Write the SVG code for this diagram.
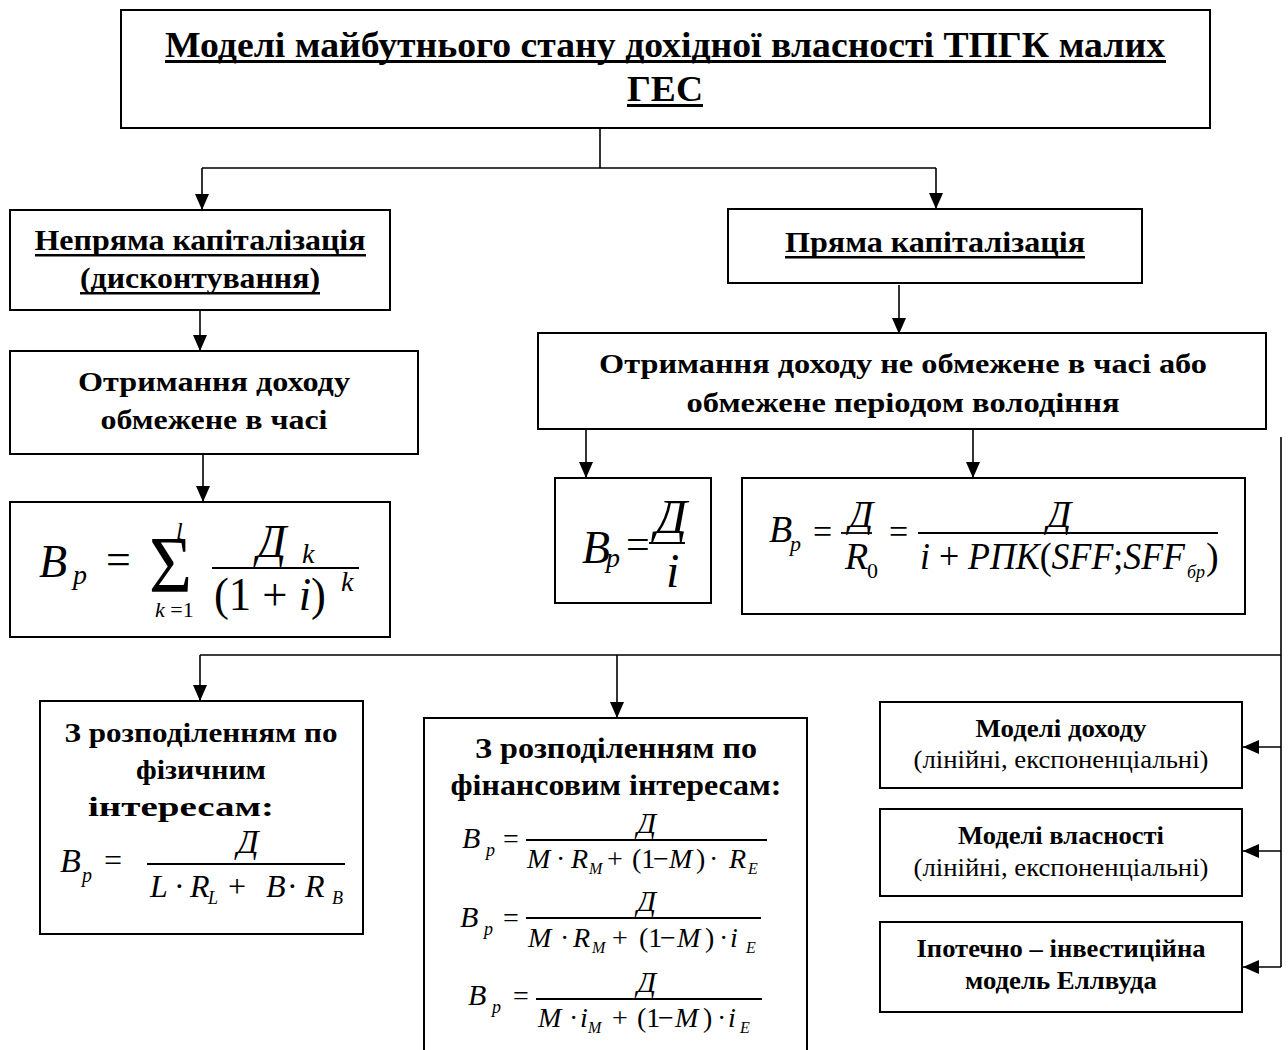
<svg xmlns="http://www.w3.org/2000/svg" width="1288" height="1050" viewBox="0 0 1288 1050">
  <defs>
    <style>
      .box { fill: #fff; stroke: #000; stroke-width: 2; }
      .conn { fill: none; stroke: #000; stroke-width: 1.6; }
      .t { font-family: "Liberation Serif", "Times New Roman", serif; fill: #000; }
      .b { font-weight: bold; }
      .c { text-anchor: middle; }
      .m { font-style: italic; }
      .eq { font-family: "Liberation Serif", "Times New Roman", serif; fill: #000; font-style: italic; }
      .r { font-style: normal; }
      .bar { stroke: #000; stroke-width: 1.8; }
      .ul { fill: #000; }
    </style>
    <marker id="arrow" markerUnits="userSpaceOnUse" markerWidth="16" markerHeight="14" viewBox="0 0 16 14" refX="16" refY="7" orient="auto">
      <path d="M0,0 L16,7 L0,14 Z" fill="#000"/>
    </marker>
  </defs>

  <rect width="1288" height="1050" fill="#fff"/>

  <!-- connectors -->
  <g id="connectors">
    <path class="conn" d="M600,128 V168 M202,168 H936"/>
    <path class="conn" d="M202,168 V210" marker-end="url(#arrow)"/>
    <path class="conn" d="M936,168 V209" marker-end="url(#arrow)"/>
    <path class="conn" d="M200,311 V351" marker-end="url(#arrow)"/>
    <path class="conn" d="M203,455 V502" marker-end="url(#arrow)"/>
    <path class="conn" d="M899,285 V334" marker-end="url(#arrow)"/>
    <path class="conn" d="M586,430 V478" marker-end="url(#arrow)"/>
    <path class="conn" d="M973,430 V478" marker-end="url(#arrow)"/>
    <path class="conn" d="M1281,437 V967 M200,655 H1281"/>
    <path class="conn" d="M200,655 V701" marker-end="url(#arrow)"/>
    <path class="conn" d="M617,655 V718" marker-end="url(#arrow)"/>
    <path class="conn" d="M1281,747 H1243" marker-end="url(#arrow)"/>
    <path class="conn" d="M1281,851 H1243" marker-end="url(#arrow)"/>
    <path class="conn" d="M1281,967 H1243" marker-end="url(#arrow)"/>
  </g>

  <!-- root -->
  <g id="title">
    <rect class="box" x="121" y="10" width="1089" height="118"/>
    <text class="t b c" x="665" y="57" font-size="35" textLength="1000" lengthAdjust="spacingAndGlyphs">Моделі майбутнього стану дохідної власності ТПГК малих</text>
    <rect class="ul" x="165" y="60" width="1001" height="3"/>
    <text class="t b c" x="665" y="101" font-size="35" textLength="76" lengthAdjust="spacingAndGlyphs">ГЕС</text>
    <rect class="ul" x="627" y="104" width="76" height="3"/>
  </g>

  <!-- left branch -->
  <g id="indirect">
    <rect class="box" x="10" y="210" width="380" height="100"/>
    <text class="t b c" x="200" y="250" font-size="30" textLength="331" lengthAdjust="spacingAndGlyphs">Непряма капіталізація</text>
    <rect class="ul" x="35" y="254" width="331" height="2.5"/>
    <text class="t b c" x="200" y="288" font-size="30" textLength="240" lengthAdjust="spacingAndGlyphs">(дисконтування)</text>
    <rect class="ul" x="80" y="292" width="240" height="2.5"/>
  </g>

  <g id="limited">
    <rect class="box" x="10" y="351" width="408" height="103"/>
    <text class="t b c" x="214" y="391" font-size="28" textLength="272" lengthAdjust="spacingAndGlyphs">Отримання доходу</text>
    <text class="t b c" x="214" y="429" font-size="28" textLength="227" lengthAdjust="spacingAndGlyphs">обмежене в часі</text>
  </g>

  <g id="formula-sum">
    <rect class="box" x="10" y="502" width="380" height="135"/>
    <text class="eq" x="39" y="577" font-size="46">B</text>
    <text class="eq" x="73" y="584" font-size="28">p</text>
    <text class="eq r" x="106" y="574" font-size="44">=</text>
    <text class="eq r" transform="translate(149,592) scale(1,1.12)" font-size="72" textLength="43" lengthAdjust="spacingAndGlyphs">Σ</text>
    <text class="eq" x="176" y="539" font-size="24">l</text>
    <text class="eq" x="155" y="617" font-size="22">k<tspan class="r"> =1</tspan></text>
    <line class="bar" x1="212" y1="568" x2="359" y2="568"/>
    <text class="eq" x="257" y="557" font-size="46">Д</text>
    <text class="eq" x="302" y="563" font-size="28">k</text>
    <text class="eq r" x="214" y="610" font-size="46" textLength="112" lengthAdjust="spacingAndGlyphs">(1 + <tspan class="m">i</tspan>)</text>
    <text class="eq" x="341" y="591" font-size="28">k</text>
  </g>

  <!-- right branch -->
  <g id="direct">
    <rect class="box" x="728" y="209" width="414" height="74"/>
    <text class="t b c" x="935" y="252" font-size="30" textLength="300" lengthAdjust="spacingAndGlyphs">Пряма капіталізація</text>
    <rect class="ul" x="785" y="256" width="300" height="2.5"/>
  </g>

  <g id="unlimited">
    <rect class="box" x="538" y="333" width="728" height="96"/>
    <text class="t b c" x="903" y="373" font-size="28" textLength="608" lengthAdjust="spacingAndGlyphs">Отримання доходу не обмежене в часі або</text>
    <text class="t b c" x="903" y="412" font-size="28" textLength="433" lengthAdjust="spacingAndGlyphs">обмежене періодом володіння</text>
  </g>

  <g id="formula-simple">
    <rect class="box" x="555" y="478" width="156" height="125"/>
    <text class="eq" x="582" y="563" font-size="46" textLength="28" lengthAdjust="spacingAndGlyphs">B</text>
    <text class="eq" x="606" y="567" font-size="28">p</text>
    <text class="eq r" x="626" y="558" font-size="42">=</text>
    <line class="bar" x1="649" y1="543" x2="685" y2="543"/>
    <text class="eq" x="655" y="533" font-size="48" textLength="32" lengthAdjust="spacingAndGlyphs">Д</text>
    <text class="eq" x="666" y="587" font-size="48">i</text>
  </g>

  <g id="formula-r0">
    <rect class="box" x="742" y="478" width="503" height="136"/>
    <text class="eq" x="769" y="542" font-size="38">B</text>
    <text class="eq" x="790" y="551" font-size="22">p</text>
    <text class="eq r" x="813" y="543" font-size="34">=</text>
    <line class="bar" x1="841" y1="533" x2="872" y2="533"/>
    <text class="eq" x="849" y="527" font-size="38">Д</text>
    <text class="eq" x="845" y="569" font-size="38">R</text>
    <text class="eq r" x="867" y="578" font-size="22">0</text>
    <text class="eq r" x="889" y="543" font-size="34">=</text>
    <line class="bar" x1="918" y1="533" x2="1218" y2="533"/>
    <text class="eq" x="1047" y="527" font-size="38">Д</text>
    <text class="eq" x="920" y="569" font-size="38" textLength="265" lengthAdjust="spacingAndGlyphs">i<tspan class="r"> + </tspan>РПК<tspan class="r">(</tspan>SFF<tspan class="r">;</tspan>SFF</text>
    <text class="eq" x="1187" y="578" font-size="18">бр</text>
    <text class="eq r" x="1206" y="569" font-size="38">)</text>
  </g>

  <!-- lower row -->
  <g id="physical">
    <rect class="box" x="40" y="701" width="323" height="233"/>
    <text class="t b c" x="201" y="742" font-size="28" textLength="273" lengthAdjust="spacingAndGlyphs">З розподіленням по</text>
    <text class="t b c" x="201" y="779" font-size="28" textLength="130" lengthAdjust="spacingAndGlyphs">фізичним</text>
    <text class="t b c" x="181" y="816" font-size="28" textLength="186" lengthAdjust="spacingAndGlyphs">інтересам:</text>
    <text class="eq" x="60" y="872" font-size="34">B</text>
    <text class="eq" x="82" y="882" font-size="20">p</text>
    <text class="eq r" x="104" y="871" font-size="32">=</text>
    <line class="bar" x1="147" y1="864" x2="345" y2="864"/>
    <text class="eq" x="237" y="853" font-size="34">Д</text>
    <text class="eq" y="897" font-size="32"><tspan x="150">L</tspan><tspan class="r" x="174">·</tspan><tspan x="190">R</tspan><tspan class="r" x="228">+</tspan><tspan x="266">B</tspan><tspan class="r" x="287">·</tspan><tspan x="305">R</tspan></text>
    <text class="eq" y="904" font-size="18"><tspan x="208">L</tspan><tspan x="332">B</tspan></text>
  </g>

  <g id="financial">
    <path class="box" d="M424,1060 V718 H807 V1060"/>
    <text class="t b c" x="616" y="758" font-size="29" textLength="282" lengthAdjust="spacingAndGlyphs">З розподіленням по</text>
    <text class="t b c" x="616" y="795" font-size="29" textLength="331" lengthAdjust="spacingAndGlyphs">фінансовим інтересам:</text>

    <text class="eq" x="462" y="848" font-size="30">B</text>
    <text class="eq" x="486" y="856" font-size="18">p</text>
    <text class="eq r" x="503" y="848" font-size="28">=</text>
    <line class="bar" x1="526" y1="840" x2="767" y2="840"/>
    <text class="eq" x="637" y="833" font-size="30">Д</text>
    <text class="eq" y="868" font-size="28"><tspan x="527">M</tspan><tspan class="r" x="556">·</tspan><tspan x="571">R</tspan><tspan class="r" x="607">+</tspan><tspan class="r" x="632">(1</tspan><tspan class="r" x="653">−</tspan><tspan x="669">M</tspan><tspan class="r" x="696">)</tspan><tspan class="r" x="709">·</tspan><tspan x="729">R</tspan></text>
    <text class="eq" y="874" font-size="16"><tspan x="589">M</tspan><tspan x="748">E</tspan></text>

    <text class="eq" x="460" y="927" font-size="30">B</text>
    <text class="eq" x="484" y="935" font-size="18">p</text>
    <text class="eq r" x="503" y="927" font-size="28">=</text>
    <line class="bar" x1="526" y1="918" x2="761" y2="918"/>
    <text class="eq" x="637" y="911" font-size="30">Д</text>
    <text class="eq" y="947" font-size="28"><tspan x="528">M</tspan><tspan class="r" x="560">·</tspan><tspan x="573">R</tspan><tspan class="r" x="612">+</tspan><tspan class="r" x="639">(1</tspan><tspan class="r" x="660">−</tspan><tspan x="677">M</tspan><tspan class="r" x="705">)</tspan><tspan class="r" x="719">·</tspan><tspan x="730">i</tspan></text>
    <text class="eq" y="953" font-size="16"><tspan x="592">M</tspan><tspan x="746">E</tspan></text>

    <text class="eq" x="468" y="1005" font-size="30">B</text>
    <text class="eq" x="492" y="1013" font-size="18">p</text>
    <text class="eq r" x="513" y="1005" font-size="28">=</text>
    <line class="bar" x1="536" y1="999" x2="762" y2="999"/>
    <text class="eq" x="637" y="992" font-size="30">Д</text>
    <text class="eq" y="1027" font-size="28"><tspan x="538">M</tspan><tspan class="r" x="569">·</tspan><tspan x="580">i</tspan><tspan class="r" x="612">+</tspan><tspan class="r" x="637">(1</tspan><tspan class="r" x="658">−</tspan><tspan x="675">M</tspan><tspan class="r" x="703">)</tspan><tspan class="r" x="717">·</tspan><tspan x="728">i</tspan></text>
    <text class="eq" y="1033" font-size="16"><tspan x="588">M</tspan><tspan x="740">E</tspan></text>
  </g>

  <g id="income-models">
    <rect class="box" x="880" y="702" width="362" height="86"/>
    <text class="t b c" x="1061" y="737" font-size="26" textLength="171" lengthAdjust="spacingAndGlyphs">Моделі доходу</text>
    <text class="t c" x="1061" y="768" font-size="26" textLength="295" lengthAdjust="spacingAndGlyphs">(лінійні, експоненціальні)</text>
  </g>

  <g id="property-models">
    <rect class="box" x="880" y="809" width="362" height="87"/>
    <text class="t b c" x="1061" y="844" font-size="26" textLength="206" lengthAdjust="spacingAndGlyphs">Моделі власності</text>
    <text class="t c" x="1061" y="876" font-size="26" textLength="295" lengthAdjust="spacingAndGlyphs">(лінійні, експоненціальні)</text>
  </g>

  <g id="ellwood-model">
    <rect class="box" x="880" y="922" width="362" height="90"/>
    <text class="t b c" x="1061" y="957" font-size="26" textLength="289" lengthAdjust="spacingAndGlyphs">Іпотечно – інвестиційна</text>
    <text class="t b c" x="1061" y="989" font-size="26" textLength="192" lengthAdjust="spacingAndGlyphs">модель Еллвуда</text>
  </g>
</svg>
